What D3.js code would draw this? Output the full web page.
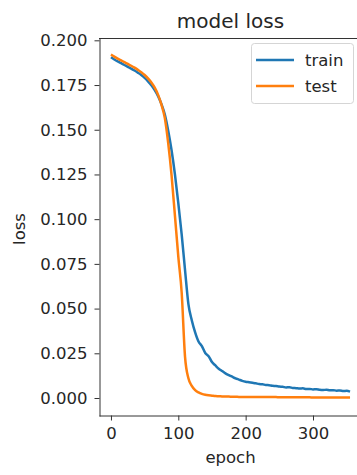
<!DOCTYPE html>
<html><head><meta charset="utf-8">
<script src="https://cdn.jsdelivr.net/npm/d3@7"></script>
<style>body{margin:0;background:#fff} svg{display:block} text{font-family:"DejaVu Sans",sans-serif;fill:#262626}</style>
</head><body><svg id="c" width="357" height="475"></svg>
<script>
// epochs sampled every 5
const epochs = d3.range(0, 356, 5);
const trainLoss = [
  0.1905,0.1893,0.1882,0.1872,0.1862,0.1852,0.1842,0.1831,0.1819,0.1806,0.1790,0.1771,
  0.1749,0.1722,0.1688,0.1643,0.1585,0.1495,0.1385,0.1250,0.1090,0.0915,0.0715,0.0525,
  0.0435,0.0367,0.0316,0.0290,0.0252,0.0234,0.0201,0.0182,0.0164,0.0151,0.0138,0.0128,
  0.0119,0.0110,0.0103,0.0096,0.0091,0.0088,0.0085,0.0082,0.0078,0.0077,0.0073,0.0072,
  0.0068,0.0067,0.0064,0.0063,0.0059,0.0060,0.0056,0.0055,0.0053,0.0054,0.0050,0.0051,
  0.0048,0.0049,0.0046,0.0045,0.0046,0.0043,0.0044,0.0041,0.0042,0.0039,0.0040,0.0036
];
const testLoss = [
  0.1921,0.1909,0.1898,0.1888,0.1878,0.1868,0.1858,0.1847,0.1835,0.1822,0.1806,0.1787,
  0.1764,0.1735,0.1695,0.1640,0.1565,0.1425,0.1245,0.1020,0.0790,0.0590,0.0230,0.0110,
  0.0068,0.0044,0.0031,0.0023,0.0018,0.0015,0.0013,0.0011,0.0010,0.0009,0.0008,0.0008,
  0.0007,0.0007,0.0006,0.0006,0.0006,0.0006,0.0006,0.0005,0.0005,0.0005,0.0005,0.0005,
  0.0005,0.0005,0.0004,0.0004,0.0004,0.0004,0.0004,0.0004,0.0004,0.0004,0.0004,0.0004,
  0.0003,0.0003,0.0003,0.0003,0.0003,0.0003,0.0003,0.0003,0.0003,0.0003,0.0003,0.0003
];
const seriesNames = ["train", "test"];
const seriesColors = ["#1f77b4", "#ff7f0e"];
const xTicks = [0, 100, 200, 300];
const yTicks = [0, 0.025, 0.05, 0.075, 0.1, 0.125, 0.15, 0.175, 0.2];
const titleText = "model loss", xLabel = "epoch", yLabel = "loss";

const svg = d3.select("#c");
const L = 99, R = 362, T = 38, B = 416;
const x = d3.scaleLinear().domain([-17.75, 372.75]).range([L, R]);
const y = d3.scaleLinear().domain([-0.01006, 0.2013]).range([B, T]);
const FS = 16.5;

// spines
svg.append("line").attr("x1", L).attr("x2", R).attr("y1", T + 0.5).attr("y2", T + 0.5).attr("stroke", "#333").attr("stroke-width", 1);
const yAx = svg.append("g").attr("transform", `translate(${L + 0.5},0)`)
  .call(d3.axisLeft(y).tickValues(yTicks).tickFormat(d3.format(".3f")).tickSize(5).tickSizeOuter(0).tickPadding(7));
const xAx = svg.append("g").attr("transform", `translate(0,${B - 0.5})`)
  .call(d3.axisBottom(x).tickValues(xTicks).tickFormat(d3.format("d")).tickSize(5).tickSizeOuter(0).tickPadding(7));
[yAx, xAx].forEach(g => {
  g.select(".domain").attr("stroke", "#333").attr("stroke-width", 1);
  g.selectAll(".tick line").attr("stroke", "#333").attr("stroke-width", 1);
  g.selectAll(".tick text").attr("font-size", FS).attr("fill", "#262626").style("font-family", "DejaVu Sans");
});

// lines
const series = [trainLoss, testLoss];
series.forEach((vals, i) => {
  const line = d3.line().x((d, j) => x(epochs[j])).y(d => y(d)).curve(d3.curveMonotoneX);
  svg.append("path").datum(vals).attr("d", line).attr("fill", "none")
    .attr("stroke", seriesColors[i]).attr("stroke-width", 2.5).attr("stroke-linejoin", "round");
});

// title & labels
svg.append("text").attr("x", 230.5).attr("y", 28).attr("text-anchor", "middle").attr("font-size", 20).text(titleText);
svg.append("text").attr("x", 230.5).attr("y", 463).attr("text-anchor", "middle").attr("font-size", FS).text(xLabel);
svg.append("text").attr("transform", "translate(25,229) rotate(-90)").attr("text-anchor", "middle").attr("font-size", FS).text(yLabel);

// legend
const lg = svg.append("g");
lg.append("rect").attr("x", 251.5).attr("y", 43.5).attr("width", 102).attr("height", 60).attr("rx", 3)
  .attr("fill", "#fff").attr("fill-opacity", 0.8).attr("stroke", "#d5d5d5");
seriesNames.forEach((n, i) => {
  const yy = 60 + i * 26;
  lg.append("line").attr("x1", 256).attr("x2", 294).attr("y1", yy).attr("y2", yy).attr("stroke", seriesColors[i]).attr("stroke-width", 2.5);
  lg.append("text").attr("x", 305).attr("y", yy + 6).attr("font-size", FS).text(n);
});
</script></body></html>
